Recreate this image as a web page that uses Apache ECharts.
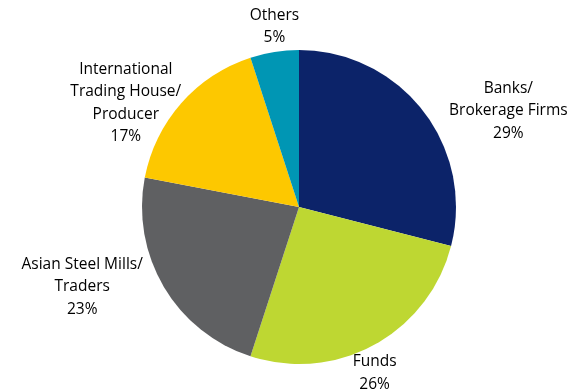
<!DOCTYPE html>
<html>
<head>
<meta charset="utf-8">
<script src="https://cdn.jsdelivr.net/npm/echarts@6/dist/echarts.min.js"></script>
<style>
  html, body { margin: 0; padding: 0; background: #ffffff; }
  #chart { width: 581px; height: 392px; }
</style>
</head>
<body>
<div id="chart"></div>
<script>
// Participant groups (clockwise from 12 o'clock) and their shares in percent
const categories = [
  'Banks/\nBrokerage Firms',
  'Funds',
  'Asian Steel Mills/\nTraders',
  'International\nTrading House/\nProducer',
  'Others'
];
const shares = [29, 26, 23, 17, 5];
const colors = ['#0C2369', '#BED732', '#5F6062', '#FDC800', '#0096B4'];

// Distance in px between the pie rim and the nearest side of each label box
const labelGaps = [26, 6, 21, 0, 3];

const chart = echarts.init(document.getElementById('chart'), null, { renderer: 'canvas' });

chart.setOption({
  animation: false,
  backgroundColor: '#ffffff',
  series: [{
    type: 'pie',
    center: [299, 207],
    radius: 157,
    startAngle: 90,
    clockwise: true,
    avoidLabelOverlap: false,
    data: categories.map((name, i) => ({
      name: name,
      value: shares[i],
      itemStyle: { color: colors[i] }
    })),
    itemStyle: { borderWidth: 0 },
    emphasis: { disabled: true },
    label: {
      show: true,
      position: 'outside',
      formatter: p => p.name + '\n' + p.value + '%',
      fontFamily: '"Open Sans", Lato, sans-serif',
      fontSize: 15.5,
      lineHeight: 22.5,
      color: '#000000',
      align: 'center'
    },
    // kept (but invisible) so the rim point of every slice is available below
    labelLine: {
      show: true,
      length: 10,
      length2: 0,
      lineStyle: { opacity: 0, width: 0 }
    },
    // Place each label beside its slice's rim point: pushed out along the
    // dominant direction, centred on the rim point across it.
    labelLayout: function (params) {
      const pts = params.labelLinePoints;
      if (!pts) return {};
      const p0 = pts[0], p1 = pts[1];
      let dx = p1[0] - p0[0], dy = p1[1] - p0[1];
      const len = Math.hypot(dx, dy) || 1;
      dx /= len; dy /= len;
      const hw = params.labelRect.width / 2;
      const hh = params.labelRect.height / 2;
      const gap = labelGaps[params.dataIndex];
      let x = p0[0], y = p0[1];
      if (Math.abs(dx) >= Math.abs(dy)) {
        x += Math.sign(dx) * (gap + hw);
      } else {
        y += Math.sign(dy) * (gap + hh);
      }
      return { x: x, y: y, align: 'center', verticalAlign: 'middle' };
    }
  }]
});
</script>
</body>
</html>
